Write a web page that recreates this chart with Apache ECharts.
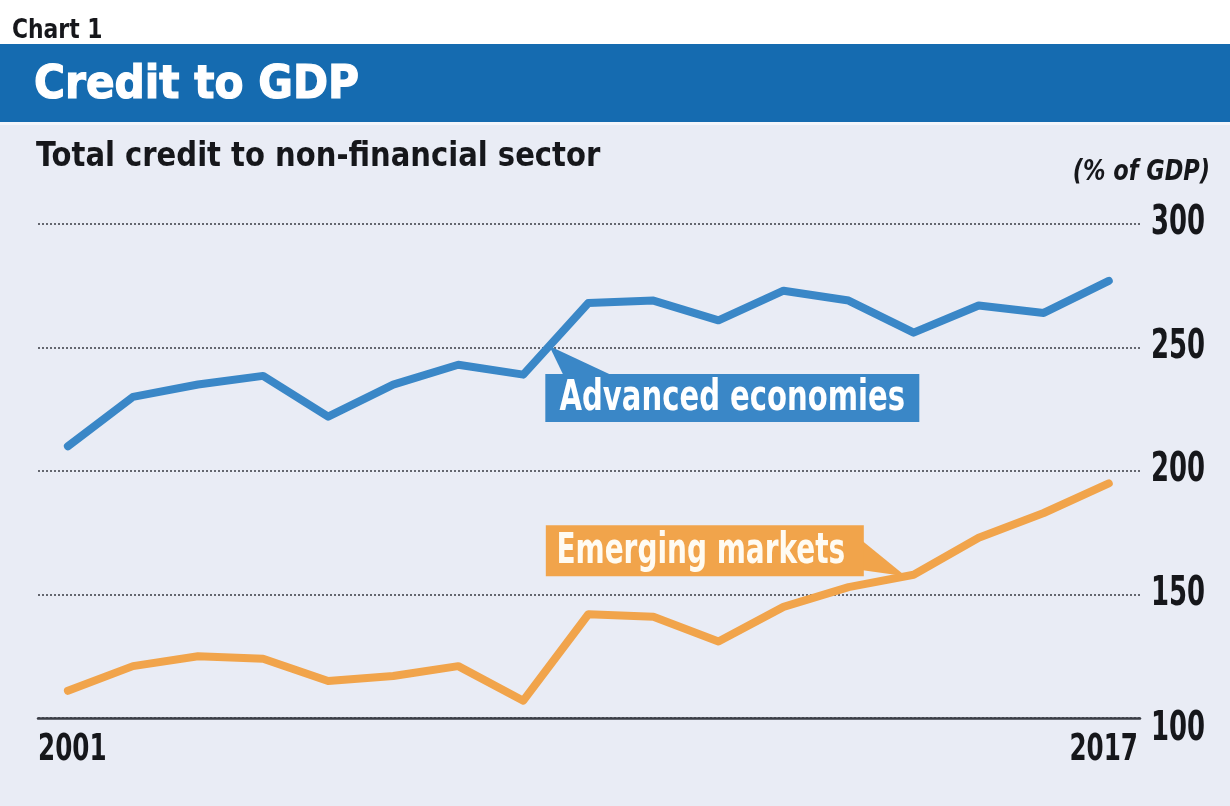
<!DOCTYPE html>
<html>
<head>
<meta charset="utf-8">
<script src="https://cdn.jsdelivr.net/npm/echarts@6/dist/echarts.min.js"></script>
<style>
  html, body { margin: 0; padding: 0; background: #ffffff; }
  #chart { width: 1230px; height: 806px; }
</style>
</head>
<body>
<div id="chart"></div>
<script>
// Total credit to the non-financial sector, % of GDP
const years = [2001, 2002, 2003, 2004, 2005, 2006, 2007, 2008, 2009,
               2010, 2011, 2012, 2013, 2014, 2015, 2016, 2017];
const advancedEconomies = [210, 230, 235, 238.5, 222, 235, 243, 239, 268,
                           269, 261, 273, 269, 256, 267, 264, 277];
const emergingMarkets = [111, 121, 125, 124, 115, 117, 121, 107, 142,
                         141, 131, 145, 153, 158, 173, 183, 195];
const yTicks = [100, 150, 200, 250, 300];
const xTickLabels = [2001, 2017];

const BLUE = '#3a87c7';
const ORANGE = '#f1a44b';
const COND = '"DejaVu Sans Condensed", "DejaVu Sans", sans-serif';
const INK = '#16171b';
const X_MIN = 2000.54, X_MAX = 2017.48;

const chart = echarts.init(document.getElementById('chart'), null, { renderer: 'canvas' });

function pairs(vals) { return years.map((y, i) => [y, vals[i]]); }

chart.setOption({
  backgroundColor: '#e9ecf5',
  animation: false,
  grid: { left: 38, right: 90, top: 224, bottom: 88 },
  xAxis: {
    type: 'value',
    min: X_MIN,
    max: X_MAX,
    splitLine: { show: false },
    axisTick: { show: false },
    axisLine: { show: true, lineStyle: { color: '#3a3d45', width: 2.5 } },
    axisLabel: { show: false },
    z: 5
  },
  yAxis: {
    type: 'value',
    position: 'right',
    min: 100, max: 300, interval: 50,
    axisLine: { show: false },
    axisTick: { show: false },
    splitLine: { show: true, lineStyle: { color: '#44464f', width: 1.6, type: [2, 2] } },
    axisLabel: { show: false }
  },
  series: [
    {
      name: 'Advanced economies', type: 'line', data: pairs(advancedEconomies),
      showSymbol: false, lineStyle: { color: BLUE, width: 8, cap: 'round', join: 'round' }, z: 3
    },
    {
      name: 'Emerging markets', type: 'line', data: pairs(emergingMarkets),
      showSymbol: false, lineStyle: { color: ORANGE, width: 8, cap: 'round', join: 'round' }, z: 3
    }
  ]
});

// condensed bold text, narrowed horizontally around its anchor
function narrowText(x, y, text, size, sx, extra) {
  return {
    type: 'text', x: x, y: y, scaleX: sx, scaleY: 1, originX: 0, originY: 0, z: 20,
    style: Object.assign({ text: text, fontFamily: COND, fontWeight: 'bold', fontSize: size, fill: INK,
                           textAlign: 'left', textVerticalAlign: 'middle' }, extra || {})
  };
}

// tick labels placed through the axes' own scales
const tickLabels = [];
const gridLeft = chart.convertToPixel({ xAxisIndex: 0 }, X_MIN);
const gridRight = chart.convertToPixel({ xAxisIndex: 0 }, X_MAX);
yTicks.forEach((v, i) => {
  const py = chart.convertToPixel({ yAxisIndex: 0 }, v);
  tickLabels.push(narrowText(gridRight + 11, py + (i === 0 ? 12 : 0), String(v), 40, 0.72));
});
xTickLabels.forEach((yr, i) => {
  const first = i === 0;
  tickLabels.push(narrowText(first ? gridLeft : gridRight - 2, 750, String(yr), 38, 0.72,
                             { textAlign: first ? 'left' : 'right' }));
});

// point on a series at a fractional year, interpolated along the drawn segment
function anchor(seriesIndex, vals, year) {
  const i = Math.floor(year - years[0]);
  const t = year - years[i];
  const v = vals[i] + (vals[i + 1] - vals[i]) * t;
  return chart.convertToPixel({ seriesIndex: seriesIndex }, [year, v]);
}

const advTip = anchor(0, advancedEconomies, 2008.4);
const emTip = anchor(1, emergingMarkets, 2013.88);

// callout boxes
const advBox = { x: advTip[0] - 4, y: advTip[1] + 28, w: 374, h: 48 };
const emBox = { x: emTip[0] - 360, y: emTip[1] - 51, w: 318, h: 51 };

chart.setOption({
  graphic: [
    // header
    { type: 'rect', shape: { x: 0, y: 0, width: 1230, height: 44 }, style: { fill: '#ffffff' }, silent: true },
    { type: 'rect', shape: { x: 0, y: 44, width: 1230, height: 78 }, style: { fill: '#156bb0' }, silent: true },
    { type: 'rect', shape: { x: 0, y: 122, width: 1230, height: 3 }, style: { fill: '#f4f6fb' }, silent: true },
    narrowText(12, 31, 'Chart 1', 27, 0.9),
    { type: 'text', x: 34, y: 86, style: { text: 'Credit to GDP', fontFamily: COND,
        fontWeight: 'bold', fontSize: 47, fill: '#ffffff', textVerticalAlign: 'middle',
        stroke: '#ffffff', lineWidth: 1.2 } },
    narrowText(36, 157, 'Total credit to non-financial sector', 34, 0.95),
    narrowText(1210, 172, '(% of GDP)', 29, 0.86, { fontStyle: 'italic', textAlign: 'right' }),

    // Advanced economies callout
    { type: 'polygon', z: 10, shape: { points: [advTip, [advTip[0] + 14, advBox.y + 1], [advTip[0] + 62, advBox.y + 1]] },
      style: { fill: BLUE } },
    { type: 'rect', z: 10, shape: { x: advBox.x, y: advBox.y, width: advBox.w, height: advBox.h }, style: { fill: BLUE } },
    narrowText(advBox.x + advBox.w / 2, advBox.y + advBox.h / 2 + 1, 'Advanced economies', 42, 0.77,
               { fill: '#ffffff', textAlign: 'center' }),

    // Emerging markets callout
    { type: 'polygon', z: 10, shape: { points: [[emBox.x + emBox.w - 1, emBox.y + 16], emTip, [emBox.x + emBox.w - 1, emBox.y + emBox.h - 6]] },
      style: { fill: ORANGE } },
    { type: 'rect', z: 10, shape: { x: emBox.x, y: emBox.y, width: emBox.w, height: emBox.h }, style: { fill: ORANGE } },
    narrowText(emBox.x + emBox.w / 2 - 4, emBox.y + emBox.h / 2 + 1, 'Emerging markets', 42, 0.74,
               { fill: '#fffbf2', textAlign: 'center' })
  ].concat(tickLabels)
});
</script>
</body>
</html>
